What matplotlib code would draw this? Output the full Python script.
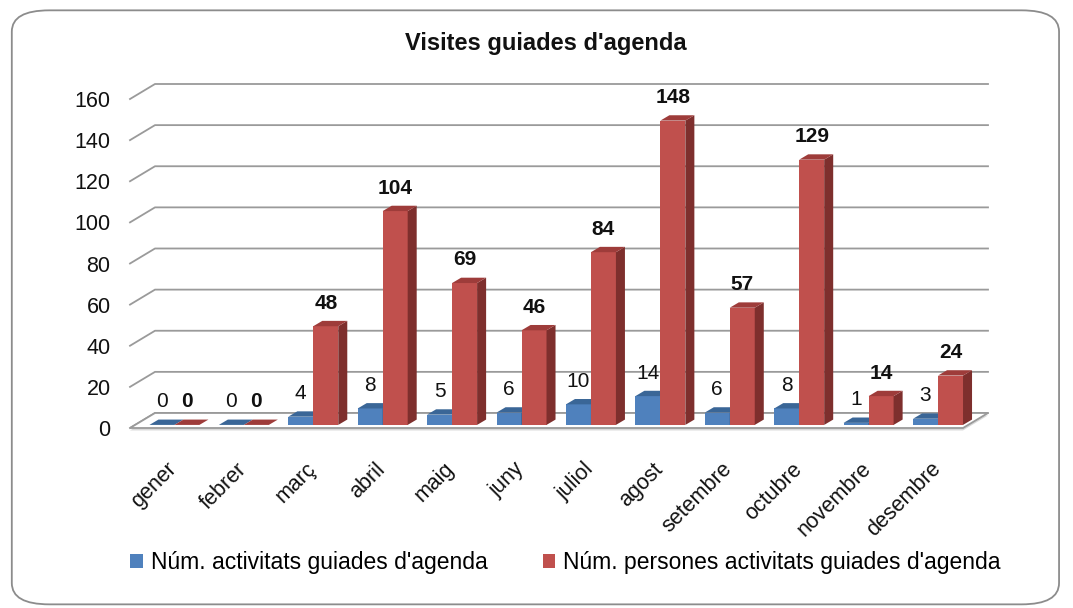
import matplotlib
matplotlib.use('Agg')
import matplotlib.pyplot as plt
from matplotlib.patches import Polygon, FancyBboxPatch, Patch

plt.rcParams['font.family'] = ['Liberation Sans', 'DejaVu Sans']

months = ['gener', 'febrer', 'març', 'abril', 'maig', 'juny', 'juliol', 'agost',
          'setembre', 'octubre', 'novembre', 'desembre']
activitats = [0, 0, 4, 8, 5, 6, 10, 14, 6, 8, 1, 3]
persones = [0, 0, 48, 104, 69, 46, 84, 148, 57, 129, 14, 24]
series_names = ["Núm. activitats guiades d'agenda", "Núm. persones activitats guiades d'agenda"]
yticks = list(range(0, 161, 20))

BLUE = ('#4F81BD', '#3A6697', '#2F527C')   # front, top, side
RED = ('#C0504D', '#9E3C3A', '#7E2F2D')
GRID = '#9A9A9A'
INK = '#111111'

# pseudo-3D geometry (data units)
DX, DY = 0.36, 7.3        # back wall offset
BDX, BDY = 0.13, 2.6      # bar depth
BASE = 1.5                # bar base inside the floor
W = 0.36

fig = plt.figure(figsize=(10.73, 6.08), dpi=100)
fig.patch.set_facecolor('white')
fig.patches.append(FancyBboxPatch((0.011, 0.006), 0.976, 0.977,
                                  boxstyle='round,pad=0,rounding_size=0.035',
                                  transform=fig.transFigure, fc='none', ec='#8C8C8C',
                                  lw=1.3, zorder=-1))

ax = fig.add_axes([130/1073, 1-428/608, 858/1073, 344/608])
ax.set_xlim(-0.5, 11.5 + DX)
ax.set_ylim(0, 160 + DY)
for s in ax.spines.values():
    s.set_visible(False)
ax.set_xticks([])
ax.set_yticks(yticks)
ax.set_yticklabels([str(v) for v in yticks], fontsize=15.5, color=INK)
ax.tick_params(axis='y', length=0, pad=14)
ax.patch.set_alpha(0)

# floor
ax.add_patch(Polygon([(-0.5, -1.2), (11.5, -1.2), (11.5 + DX, DY - 1.2), (-0.5 + DX, DY - 1.2)],
                     closed=True, fc='#D9D9D9', ec='none', zorder=1, clip_on=False))
ax.add_patch(Polygon([(-0.5, 0), (11.5, 0), (11.5 + DX, DY), (-0.5 + DX, DY)],
                     closed=True, fc='white', ec=GRID, lw=1.3, zorder=2, clip_on=False))
# wall gridlines
for v in yticks:
    ax.plot([-0.5, -0.5 + DX, 11.5 + DX], [v, v + DY, v + DY], color=GRID, lw=1.3,
            zorder=1.5, clip_on=False)


def bar3d(x0, v, cols):
    f, t, s = cols
    top = BASE + v
    ax.add_patch(Polygon([(x0, BASE), (x0 + W, BASE), (x0 + W, top), (x0, top)],
                         fc=f, ec='none', zorder=3))
    ax.add_patch(Polygon([(x0 + W, BASE), (x0 + W + BDX, BASE + BDY), (x0 + W + BDX, top + BDY),
                          (x0 + W, top)], fc=s, ec='none', zorder=3))
    ax.add_patch(Polygon([(x0, top), (x0 + W, top), (x0 + W + BDX, top + BDY), (x0 + BDX, top + BDY)],
                         fc=t, ec='none', zorder=3))


for i, (a, p) in enumerate(zip(activitats, persones)):
    xb = i - 0.22
    xr = i + 0.14
    bar3d(xb, a, BLUE)
    bar3d(xr, p, RED)
    ax.text(xb + W / 2, a + BASE + BDY + 4, str(a), ha='center', va='bottom',
            fontsize=15, color=INK, zorder=5)
    ax.text(xr + W / 2, p + BASE + BDY + 4, str(p), ha='center', va='bottom',
            fontsize=15, fontweight='bold', color=INK, zorder=5)
    ax.text(i + 0.13, -18.5, months[i], rotation=45, rotation_mode='anchor',
            ha='right', va='center', fontsize=15.5, color=INK, clip_on=False)

fig.text(0.509, 0.929, "Visites guiades d'agenda", ha='center', va='center',
         fontsize=17, fontweight='bold', color=INK)

handles = [Patch(fc=BLUE[0], ec='none'), Patch(fc=RED[0], ec='none')]
fig.legend(handles, series_names, loc='center', bbox_to_anchor=(0.527, 0.075), ncol=2,
           frameon=False, fontsize=16.5, handlelength=0.55, handleheight=0.55,
           handletextpad=0.35, columnspacing=2.4)

plt.savefig('out.png', dpi=100, facecolor='white')
